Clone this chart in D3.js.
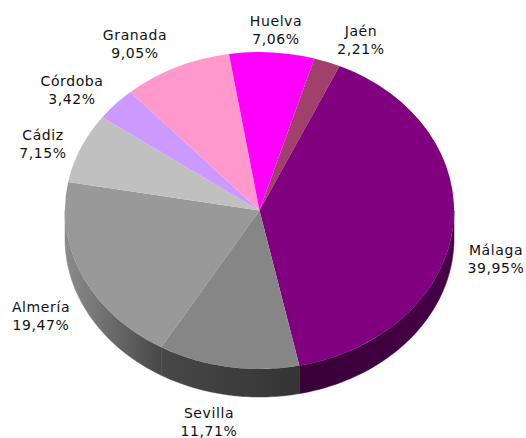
<!DOCTYPE html>
<html><head><meta charset="utf-8">
<script src="https://cdn.jsdelivr.net/npm/d3@7"></script>
<style>html,body{margin:0;background:#fff}svg{display:block}text{font-family:"DejaVu Sans",sans-serif;font-size:14px;letter-spacing:.6px;fill:#111}</style>
</head><body><div id="c"></div>
<script>
const categories=["Almería","Cádiz","Córdoba","Granada","Huelva","Jaén","Málaga","Sevilla"];
const values=[19.47,7.15,3.42,9.05,7.06,2.21,39.95,11.71];
const valueLabels=["19,47%","7,15%","3,42%","9,05%","7,06%","2,21%","39,95%","11,71%"];
const topColors=["#999999","#c0c0c0","#cc99ff","#ff99cc","#ff00ff","#a2406c","#800080","#868686"];
const wallLeft=["#8c8c8c","#777","#77c","#c79","#909","#603","#380038","#484848"];
const wallRight=["#474747","#777","#77c","#c79","#909","#603","#480048","#343434"];
const labelX=[41,43,72,135,276,361,496,209];
const labelY=[312,140,86,40,26,36,255,418];

const W=526,H=438,cx=259.5,cy=210.5,rx=194.5,ry=158.5,depth=28;
const svg=d3.select("#c").append("svg").attr("width",W).attr("height",H);
const start=210.3*Math.PI/180;
const pie=d3.pie().sort(null).startAngle(start).endAngle(start+2*Math.PI);
const arcs=pie(values);
const X=d3.scaleLinear().domain([-1,1]).range([cx-rx,cx+rx]);
const Y=d3.scaleLinear().domain([-1,1]).range([cy-ry,cy+ry]);
const defs=svg.append("defs");

arcs.forEach((d,i)=>{
  for(const shift of [0,2*Math.PI]){
    const a0=Math.max(d.startAngle,Math.PI/2+shift),a1=Math.min(d.endAngle,3*Math.PI/2+shift);
    if(a1<=a0) continue;
    const id="w"+i+"_"+shift.toFixed(0);
    const xa=X(Math.sin(a0)),xb=X(Math.sin(a1));
    const g=defs.append("linearGradient").attr("id",id).attr("gradientUnits","userSpaceOnUse")
      .attr("x1",Math.min(xa,xb)).attr("x2",Math.max(xa,xb)).attr("y1",0).attr("y2",0);
    g.append("stop").attr("offset",0).attr("stop-color",wallLeft[i]);
    g.append("stop").attr("offset",1).attr("stop-color",wallRight[i]);
    const n=48,pts=[];
    d3.range(n+1).forEach(k=>{const a=a0+(a1-a0)*k/n;pts.push([X(Math.sin(a)),Y(-Math.cos(a))])});
    const bot=pts.slice().reverse().map(p=>[p[0],p[1]+depth]);
    svg.append("path").attr("d",d3.line()(pts.concat(bot))+"Z").attr("fill","url(#"+id+")")
      .attr("stroke","url(#"+id+")").attr("stroke-width",.5);
  }
});
const face=svg.append("g").attr("transform",`translate(${cx},${cy}) scale(${rx},${ry})`);
const arc=d3.arc().innerRadius(0).outerRadius(1);
face.selectAll("path").data(arcs).join("path").attr("d",arc).attr("fill",(d,i)=>topColors[i]);

const lab=svg.append("g").attr("text-anchor","middle");
categories.forEach((c,i)=>{
  const t=lab.append("text").attr("x",labelX[i]).attr("y",labelY[i]);
  t.append("tspan").attr("x",labelX[i]).text(c);
  t.append("tspan").attr("x",labelX[i]).attr("dy",17.5).text(valueLabels[i]);
});
</script></body></html>
